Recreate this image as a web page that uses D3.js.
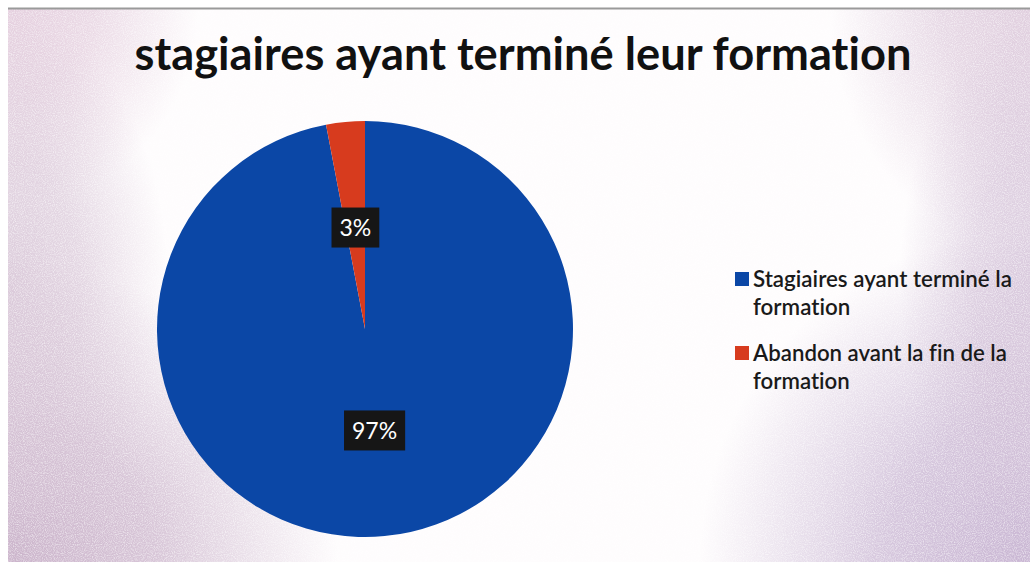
<!DOCTYPE html>
<html>
<head>
<meta charset="utf-8">
<script src="https://cdn.jsdelivr.net/npm/d3@7/dist/d3.min.js"></script>
<style>
  html, body { margin: 0; padding: 0; background: #ffffff; }
  svg { display: block; }
  text { font-variant-ligatures: none; font-feature-settings: "liga" 0, "clig" 0; }
</style>
</head>
<body>
<svg id="chart" width="1030" height="562"></svg>
<script>
// ---- data ----
const title = "stagiaires ayant terminé leur formation";
const categories = ["Stagiaires ayant terminé la formation", "Abandon avant la fin de la formation"];
const legendLines = [["Stagiaires ayant terminé la", "formation"], ["Abandon avant la fin de la", "formation"]];
const values = [97, 3];
const valueLabels = ["97%", "3%"];
const colors = ["#0b47a6", "#d73b1e"];

const svg = d3.select("#chart");
const W = 1030, H = 562;
const FONT = "Lato, 'Open Sans', sans-serif";

// ---- background (scanned page look) ----
const defs = svg.append("defs");
function radial(id, color, op) {
  const g = defs.append("radialGradient").attr("id", id);
  g.append("stop").attr("offset", "0%").attr("stop-color", color).attr("stop-opacity", op);
  g.append("stop").attr("offset", "45%").attr("stop-color", color).attr("stop-opacity", op * 0.75);
  g.append("stop").attr("offset", "100%").attr("stop-color", color).attr("stop-opacity", 0);
}
radial("gBL", "#cbb4cb", 1);
radial("gBR", "#c9b6d3", 1);
radial("gTL", "#dcc0d4", 0.75);
radial("gTR", "#d6bfd4", 0.75);
radial("gML", "#d3bfd2", 0.8);
radial("gMR", "#d0bdd5", 0.75);

defs.append("clipPath").attr("id", "pageClip")
  .append("rect").attr("x", 8).attr("y", 8).attr("width", W - 8).attr("height", H - 8);

const filt = defs.append("filter").attr("id", "noise").attr("x", 0).attr("y", 0).attr("width", 1).attr("height", 1);
filt.append("feTurbulence").attr("type", "fractalNoise").attr("baseFrequency", 0.9).attr("numOctaves", 2).attr("seed", 3).attr("result", "t");
filt.append("feColorMatrix").attr("in", "t").attr("type", "matrix")
  .attr("values", "0 0 0 0 1  0 0 0 0 1  0 0 0 0 1  0 0 0 -2.2 1.35")
  .attr("result", "n");
filt.append("feComposite").attr("in", "n").attr("in2", "SourceGraphic").attr("operator", "in");

const bg = svg.append("g").attr("clip-path", "url(#pageClip)");
bg.append("rect").attr("x", 8).attr("y", 8).attr("width", W - 8).attr("height", H - 8).attr("fill", "#fefcfd");
const bgSpots = bg.append("g");
bgSpots.append("ellipse").attr("cx", 8).attr("cy", 562).attr("rx", 330).attr("ry", 300).attr("fill", "url(#gBL)");
bgSpots.append("ellipse").attr("cx", 1030).attr("cy", 562).attr("rx", 330).attr("ry", 330).attr("fill", "url(#gBR)");
bgSpots.append("ellipse").attr("cx", 8).attr("cy", 8).attr("rx", 190).attr("ry", 200).attr("fill", "url(#gTL)");
bgSpots.append("ellipse").attr("cx", 1030).attr("cy", 8).attr("rx", 200).attr("ry", 240).attr("fill", "url(#gTR)");
bgSpots.append("ellipse").attr("cx", 8).attr("cy", 280).attr("rx", 160).attr("ry", 260).attr("fill", "url(#gML)");
bgSpots.append("ellipse").attr("cx", 1030).attr("cy", 280).attr("rx", 130).attr("ry", 260).attr("fill", "url(#gMR)");
bg.append("rect").attr("x", 8).attr("y", 8).attr("width", W - 8).attr("height", H - 8)
  .attr("fill", "#ffffff").attr("filter", "url(#noise)").attr("opacity", 0.55);
svg.append("line").attr("x1", 8).attr("x2", W).attr("y1", 8.5).attr("y2", 8.5)
  .attr("stroke", "#9a9a9a").attr("stroke-width", 2);

// ---- title ----
function fitText(sel, targetWidth, startSize) {
  let size = startSize;
  sel.attr("font-size", size);
  const w = sel.node().getComputedTextLength();
  if (w > 0) { size = size * targetWidth / w; sel.attr("font-size", size); }
  return size;
}
const t = svg.append("text")
  .attr("x", 523).attr("y", 70)
  .attr("text-anchor", "middle")
  .attr("font-family", FONT).attr("font-weight", 700)
  .attr("fill", "#111111")
  .text(title);
fitText(t, 777, 40);

// ---- pie ----
const cx = 365, cy = 329, R = 208;
const pie = d3.pie().sort(null).value(d => d)(values);
const arc = d3.arc().innerRadius(0).outerRadius(R);
const labelArc = d3.arc().innerRadius(R * 0.49).outerRadius(R * 0.49);

const g = svg.append("g").attr("transform", `translate(${cx},${cy})`);
g.selectAll("path.slice").data(pie).join("path")
  .attr("class", "slice")
  .attr("d", arc)
  .attr("fill", (d, i) => colors[i]);

const lbl = g.selectAll("g.lbl").data(pie).join("g")
  .attr("class", "lbl")
  .attr("transform", d => { const c = labelArc.centroid(d); return `translate(${c[0]},${c[1]})`; });
lbl.each(function(d, i) {
  const gg = d3.select(this);
  const txt = gg.append("text")
    .attr("text-anchor", "middle")
    .attr("dy", "0.36em")
    .attr("font-family", FONT).attr("font-size", 23)
    .attr("fill", "#ffffff")
    .text(valueLabels[i]);
  const bb = txt.node().getBBox();
  gg.insert("rect", "text")
    .attr("x", bb.x - 8).attr("y", -20)
    .attr("width", bb.width + 16).attr("height", 40)
    .attr("fill", "#161616");
});

// ---- legend ----
const legend = svg.append("g");
const legendY = [287, 361];
categories.forEach((c, i) => {
  const lg = legend.append("g");
  lg.append("rect")
    .attr("x", 735).attr("y", legendY[i] - 15)
    .attr("width", 14).attr("height", 14)
    .attr("fill", colors[i]);
  legendLines[i].forEach((line, j) => {
    const tx = lg.append("text")
      .attr("x", 753).attr("y", legendY[i] + j * 27.5)
      .attr("font-family", FONT).attr("font-weight", 600)
      .attr("font-size", 20)
      .attr("fill", "#1a1a1a")
      .text(line);
    if (j === 0 && i === 0) fitText(tx, 259, 20);
    else if (j === 0) fitText(tx, 254, 20);
  });
  const fs = lg.select("text").attr("font-size");
  lg.selectAll("text").attr("font-size", fs);
});
</script>
</body>
</html>
